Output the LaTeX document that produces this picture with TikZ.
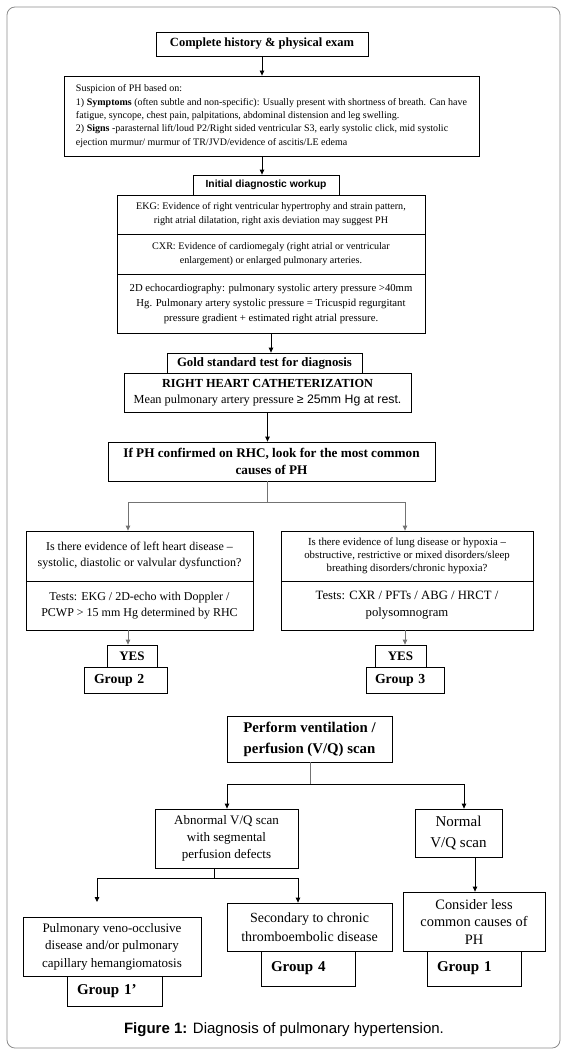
\documentclass[tikz,border=0pt]{standalone}
\usepackage{fontspec}
\setmainfont{Liberation Serif}
\setsansfont{Liberation Sans}
\usetikzlibrary{arrows.meta,calc}

\newcommand{\setfs}[2]{\fontsize{#1}{#2}\selectfont}

\tikzset{
  box/.style={draw, line width=.8pt, inner sep=1pt, align=center},
  grp/.style={box, font=\bfseries\setfs{15}{16}, align=left, text width=#1},
  tip/.style={-{Triangle[length=5pt,width=4.5pt]}, line width=.8pt},
  link/.style={line width=.8pt},
  fork/.style={line width=.8pt, draw=black!55},
}

\begin{document}
\begin{tikzpicture}[x=1pt,y=-1pt]
  \useasboundingbox (0,0) rectangle (566,1054);
  \draw [black!45, line width=.8pt, rounded corners=8pt] (7,7) rectangle (560,1048);

  % history and first workup
  \node [box, minimum width=212pt, minimum height=24pt, font=\bfseries\setfs{12.5}{14}] (hist) at (262,44) {Complete history \& physical exam};
  \node [box, minimum width=415pt, minimum height=80pt, align=left, font=\setfs{10}{13.3}] (susp) at (271.5,116) {Suspicion of PH based on:\\
    1) \textbf{Symptoms} (often subtle and non-specific): Usually present with shortness of breath. Can have\\
    fatigue, syncope, chest pain, palpitations, abdominal distension and leg swelling.\\
    2) \textbf{Signs} -parasternal lift/loud P2/Right sided ventricular S3, early systolic click, mid systolic\\
    ejection murmur/ murmur of TR/JVD/evidence of ascitis/LE edema};
  \node [box, minimum width=146pt, minimum height=20pt, font=\sffamily\bfseries\setfs{10.3}{11}] (init) at (266,185) {Initial diagnostic workup};
  \node [box, minimum width=308pt, minimum height=39pt, font=\setfs{10.1}{14}] (ekg) at (271,214.5) {EKG: Evidence of right ventricular hypertrophy and strain pattern,\\ right atrial dilatation, right axis deviation may suggest PH};
  \node [box, minimum width=308pt, minimum height=40pt, font=\setfs{10.1}{14}] (cxr) at (271,254) {CXR: Evidence of cardiomegaly (right atrial or ventricular\\ enlargement) or enlarged pulmonary arteries.};
  \node [box, minimum width=308pt, minimum height=59pt, font=\setfs{10.7}{15}] (echo) at (271,303.5) {2D echocardiography: pulmonary systolic artery pressure >40mm\\ Hg. Pulmonary artery systolic pressure = Tricuspid regurgitant\\ pressure gradient + estimated right atrial pressure.};

  % right heart catheterization
  \node [box, minimum width=195pt, minimum height=20pt, font=\bfseries\setfs{12.8}{13}] (gold) at (264.5,363) {Gold standard test for diagnosis};
  \node [box, minimum width=287pt, minimum height=39pt, font=\setfs{12.3}{16}] (rhc) at (267.5,392.5) {\textbf{RIGHT HEART CATHETERIZATION}\\ Mean pulmonary artery pressure {\sffamily ≥ 25mm Hg at rest.}};
  \node [box, minimum width=327pt, minimum height=39pt, font=\bfseries\setfs{13.2}{17}] (ifph) at (271.5,461.5) {If PH confirmed on RHC, look for the most common\\ causes of PH};

  % left heart / lung disease
  \node [box, minimum width=227pt, minimum height=50pt, font=\setfs{12}{16}] (lq) at (139.5,556) {Is there evidence of left heart disease --\\ systolic, diastolic or valvular dysfunction?};
  \node [box, minimum width=227pt, minimum height=49pt, font=\setfs{12}{16}] (lt) at (139.5,605.5) {Tests: EKG / 2D-echo with Doppler /\\ PCWP > 15 mm Hg determined by RHC};
  \node [box, minimum width=252pt, minimum height=50pt, font=\setfs{10.8}{13}] (rq) at (407,556) {Is there evidence of lung disease or hypoxia --\\ obstructive, restrictive or mixed disorders/sleep\\ breathing disorders/chronic hypoxia?};
  \node [box, minimum width=252pt, minimum height=49pt, font=\setfs{12.7}{17}] (rt) at (407,605.5) {Tests: CXR / PFTs / ABG / HRCT /\\ polysomnogram};

  \node [box, minimum width=50pt, minimum height=22pt, font=\bfseries\setfs{13}{14}] (yes1) at (132,656) {YES};
  \node [grp=63pt, minimum width=83pt, minimum height=26pt, font=\bfseries\setfs{13.8}{15}] (grp2) at (125.5,680) {Group 2};
  \node [box, minimum width=51pt, minimum height=22pt, font=\bfseries\setfs{13}{14}] (yes2) at (400.5,656) {YES};
  \node [grp=60pt, minimum width=78pt, minimum height=26pt, font=\bfseries\setfs{13.8}{15}] (grp3) at (405,680) {Group 3};

  % V/Q scan
  \node [box, minimum width=165pt, minimum height=46pt, font=\bfseries\setfs{14.8}{21}] (vq) at (309.5,739) {Perform ventilation /\\ perfusion (V/Q) scan};
  \node [box, minimum width=143pt, minimum height=59pt, font=\setfs{13}{17}] (abn) at (226.5,838.5) {Abnormal V/Q scan\\ with segmental\\ perfusion defects};
  \node [box, minimum width=87pt, minimum height=48pt, font=\setfs{15}{21}] (norm) at (458.5,833) {Normal\\ V/Q scan};
  \node [box, minimum width=178pt, minimum height=59pt, font=\setfs{13}{17.5}] (pvod) at (112,946.5) {Pulmonary veno-occlusive\\ disease and/or pulmonary\\ capillary hemangiomatosis};
  \node [grp=75pt, minimum width=95pt, minimum height=30pt] (grp1p) at (114.5,991) {Group 1’};
  \node [box, minimum width=165pt, minimum height=48pt, font=\setfs{14}{19}] (cteph) at (309.5,927) {Secondary to chronic\\ thromboembolic disease};
  \node [grp=74pt, minimum width=94pt, minimum height=35pt] (grp4) at (308,968.5) {Group 4};
  \node [box, minimum width=142pt, minimum height=59pt, font=\setfs{14.4}{17.5}] (less) at (474,921.5) {Consider less\\ common causes of\\ PH};
  \node [grp=74pt, minimum width=94pt, minimum height=35pt] (grp1) at (474,968.5) {Group 1};

  \node [font=\sffamily\setfs{15}{17}] (caption) at (284,1030) {\textbf{Figure 1:} Diagnosis of pulmonary hypertension.};

  % connectors
  \draw [tip] (hist.south) -- (hist.south |- susp.north);
  \draw [tip] (susp.south -| hist.south) -- (hist.south |- init.north);
  \draw [tip] (echo.south) -- (echo.south |- gold.north);
  \draw [tip] (rhc.south) -- (rhc.south |- ifph.north);

  \coordinate (forkL) at (128,502);
  \coordinate (forkR) at (405,502);
  \draw [fork] (ifph.south -| rhc.south) -- (rhc.south |- forkL) -- (forkL);
  \draw [fork] (rhc.south |- forkL) -- (forkR);
  \draw [tip, draw=black!55] (forkL) -- (forkL |- lq.north);
  \draw [tip, draw=black!55] (forkR) -- (forkR |- rq.north);
  \draw [tip, draw=black!55] (lt.south -| forkL) -- (forkL |- yes1.north);
  \draw [tip, draw=black!55] (rt.south -| forkR) -- (forkR |- yes2.north);

  \coordinate (vqL) at (227,784);
  \coordinate (vqR) at (464,784);
  \draw [fork] (vq.south -| 310,0) -- (310,784);
  \draw [link] (vqL) -- (vqR);
  \draw [tip] (vqL) -- (vqL |- abn.north);
  \draw [tip] (vqR) -- (vqR |- norm.north);

  \coordinate (abnL) at (97,878);
  \coordinate (abnR) at (298,878);
  \draw [link] (abn.south -| 214,0) -- (214,878);
  \draw [link] (abnL) -- (abnR);
  \draw [tip] (abnL) -- (97,902);
  \draw [tip] (abnR) -- (abnR |- cteph.north);
  \draw [tip] (norm.south -| 475,0) -- (475,0 |- less.north);
\end{tikzpicture}
\end{document}
